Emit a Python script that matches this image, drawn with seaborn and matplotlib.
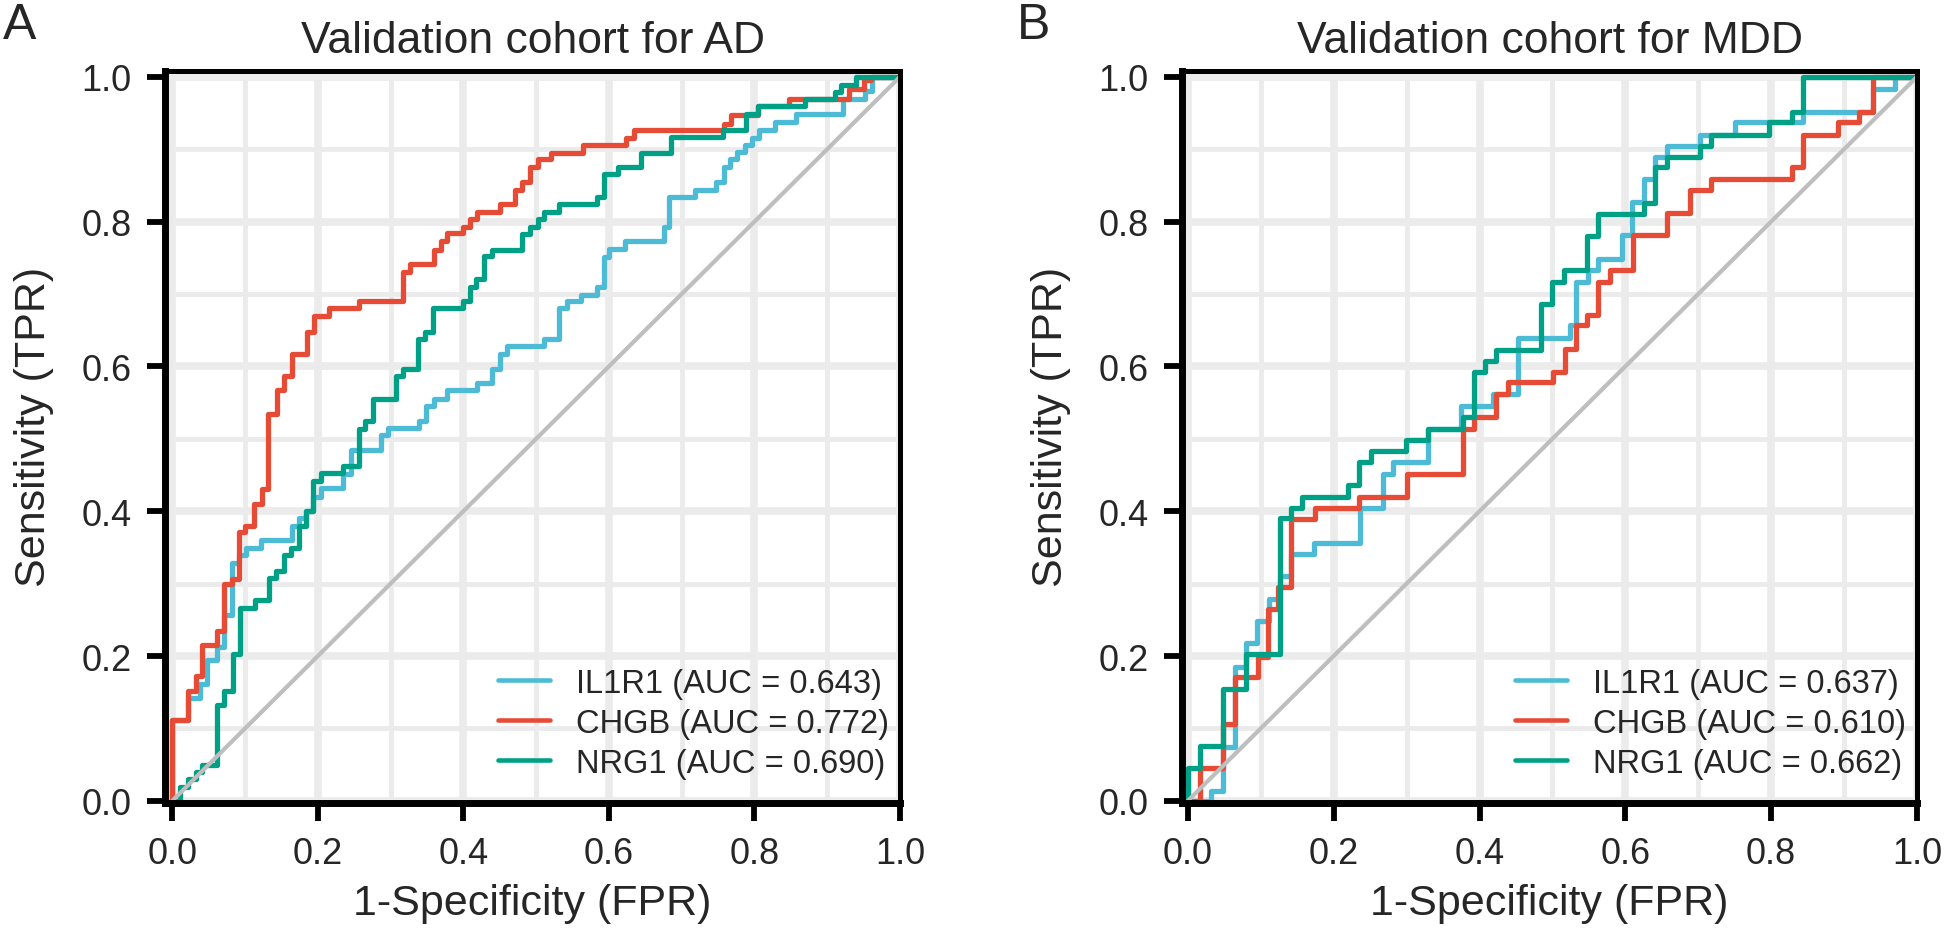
import matplotlib
matplotlib.use("Agg")
import matplotlib.pyplot as plt
import seaborn as sns
import pandas as pd

# ---------------- data (jump points of step ROC curves, steps-post) ----------------
ad_il1r1_fpr = [0, 0, 0.022, 0.038, 0.048, 0.061, 0.071, 0.082, 0.091, 0.101, 0.122, 0.165, 0.174, 0.184,
                0.194, 0.204, 0.235, 0.245, 0.287, 0.297, 0.339, 0.349, 0.359, 0.378, 0.419, 0.440, 0.450,
                0.460, 0.511, 0.532, 0.542, 0.562, 0.583, 0.593, 0.600, 0.622, 0.676, 0.683, 0.718, 0.747,
                0.758, 0.766, 0.776, 0.787, 0.796, 0.806, 0.828, 0.857, 0.921, 0.952, 0.962, 1.0]
ad_il1r1_tpr = [0, 0.111, 0.142, 0.162, 0.195, 0.212, 0.256, 0.329, 0.339, 0.349, 0.360, 0.380, 0.390, 0.400,
                0.420, 0.432, 0.452, 0.484, 0.505, 0.515, 0.525, 0.545, 0.555, 0.567, 0.577, 0.597, 0.617,
                0.628, 0.638, 0.680, 0.690, 0.699, 0.709, 0.751, 0.762, 0.773, 0.792, 0.834, 0.844, 0.855,
                0.875, 0.886, 0.896, 0.906, 0.916, 0.927, 0.938, 0.949, 0.969, 0.980, 1.0, 1.0]

ad_chgb_fpr = [0, 0, 0.022, 0.032, 0.041, 0.061, 0.071, 0.082, 0.091, 0.100, 0.112, 0.123, 0.132, 0.144,
               0.153, 0.165, 0.185, 0.195, 0.215, 0.256, 0.317, 0.326, 0.359, 0.369, 0.378, 0.400, 0.409,
               0.419, 0.450, 0.471, 0.481, 0.492, 0.502, 0.521, 0.564, 0.624, 0.634, 0.758, 0.768, 0.805,
               0.848, 0.930, 0.950, 0.960, 1.0]
ad_chgb_tpr = [0, 0.111, 0.152, 0.173, 0.215, 0.235, 0.300, 0.307, 0.371, 0.380, 0.410, 0.430, 0.534, 0.567,
               0.587, 0.617, 0.648, 0.669, 0.680, 0.690, 0.730, 0.741, 0.761, 0.773, 0.784, 0.793, 0.803,
               0.813, 0.824, 0.844, 0.855, 0.875, 0.886, 0.895, 0.906, 0.916, 0.927, 0.935, 0.947, 0.960,
               0.969, 0.983, 0.996, 1.0, 1.0]

ad_nrg1_fpr = [0, 0.011, 0.021, 0.032, 0.041, 0.061, 0.071, 0.083, 0.093, 0.113, 0.133, 0.143, 0.153, 0.163,
               0.174, 0.184, 0.194, 0.204, 0.235, 0.256, 0.265, 0.276, 0.307, 0.317, 0.337, 0.347, 0.358,
               0.399, 0.409, 0.418, 0.429, 0.440, 0.481, 0.492, 0.502, 0.511, 0.532, 0.584, 0.593, 0.613,
               0.644, 0.685, 0.757, 0.788, 0.805, 0.869, 0.910, 0.919, 0.940, 1.0]
ad_nrg1_tpr = [0, 0.019, 0.030, 0.040, 0.050, 0.133, 0.152, 0.203, 0.267, 0.277, 0.308, 0.318, 0.339, 0.349,
               0.380, 0.400, 0.442, 0.453, 0.463, 0.514, 0.524, 0.555, 0.587, 0.597, 0.638, 0.648, 0.680,
               0.690, 0.709, 0.721, 0.752, 0.761, 0.783, 0.792, 0.803, 0.813, 0.824, 0.834, 0.866, 0.875,
               0.895, 0.917, 0.927, 0.949, 0.960, 0.970, 0.979, 0.989, 1.0, 1.0]

mdd_il1r1_fpr = [0, 0.032, 0.048, 0.064, 0.080, 0.095, 0.111, 0.126, 0.141, 0.173, 0.236, 0.267, 0.282, 0.330,
                 0.375, 0.419, 0.453, 0.524, 0.532, 0.549, 0.563, 0.595, 0.609, 0.625, 0.641, 0.657, 0.702,
                 0.750, 0.844, 0.939, 0.970, 1.0]
mdd_il1r1_tpr = [0, 0.014, 0.074, 0.185, 0.218, 0.249, 0.279, 0.311, 0.341, 0.356, 0.404, 0.452, 0.468, 0.514,
                 0.545, 0.562, 0.639, 0.657, 0.717, 0.733, 0.749, 0.781, 0.827, 0.859, 0.889, 0.905, 0.920,
                 0.938, 0.952, 0.983, 1.0, 1.0]

mdd_chgb_fpr = [0, 0.017, 0.048, 0.064, 0.096, 0.110, 0.124, 0.142, 0.174, 0.235, 0.300, 0.377, 0.392, 0.422,
                0.439, 0.501, 0.517, 0.532, 0.548, 0.563, 0.579, 0.610, 0.657, 0.688, 0.718, 0.829, 0.844,
                0.891, 0.921, 0.939, 1.0]
mdd_chgb_tpr = [0, 0.045, 0.106, 0.171, 0.198, 0.265, 0.295, 0.389, 0.405, 0.419, 0.452, 0.514, 0.530, 0.562,
                0.578, 0.592, 0.624, 0.657, 0.671, 0.717, 0.733, 0.781, 0.812, 0.843, 0.859, 0.875, 0.920,
                0.938, 0.952, 1.0, 1.0]

mdd_nrg1_fpr = [0, 0, 0.017, 0.048, 0.080, 0.127, 0.141, 0.157, 0.220, 0.235, 0.251, 0.299, 0.330, 0.377,
                0.392, 0.407, 0.422, 0.485, 0.500, 0.516, 0.547, 0.563, 0.626, 0.641, 0.657, 0.702, 0.718,
                0.797, 0.829, 0.844, 1.0]
mdd_nrg1_tpr = [0, 0.045, 0.076, 0.155, 0.203, 0.390, 0.405, 0.419, 0.436, 0.468, 0.483, 0.499, 0.514, 0.530,
                0.592, 0.607, 0.622, 0.686, 0.717, 0.733, 0.780, 0.811, 0.826, 0.875, 0.889, 0.905, 0.920,
                0.938, 0.952, 1.0, 1.0]

genes = ["IL1R1", "CHGB", "NRG1"]
ad_auc = ["0.643", "0.772", "0.690"]
mdd_auc = ["0.637", "0.610", "0.662"]
colors = ["#4DBBD5", "#E64B35", "#00A087"]
titles = ["Validation cohort for AD", "Validation cohort for MDD"]
panel_letters = ["A", "B"]
ticks = [0.0, 0.2, 0.4, 0.6, 0.8, 1.0]
minor_ticks = [0.1, 0.3, 0.5, 0.7, 0.9]
diag = [0.0, 1.0]

panels = [
    (ad_auc, [(ad_il1r1_fpr, ad_il1r1_tpr), (ad_chgb_fpr, ad_chgb_tpr), (ad_nrg1_fpr, ad_nrg1_tpr)]),
    (mdd_auc, [(mdd_il1r1_fpr, mdd_il1r1_tpr), (mdd_chgb_fpr, mdd_chgb_tpr), (mdd_nrg1_fpr, mdd_nrg1_tpr)]),
]

# ---------------- style ----------------
sns.set_style("white")
plt.rcParams["font.family"] = ["Liberation Sans", "DejaVu Sans"]

fig = plt.figure(figsize=(19.44, 9.37), dpi=100)
ax_lefts = [165 / 1944, 1182 / 1944]
xlims = [(-0.01, 1.0), (-0.008, 1.0)]

for i, (aucs, curves) in enumerate(panels):
    ax = fig.add_axes([ax_lefts[i], 133 / 937, 735 / 1944, 732 / 937])
    labels = [f"{g} (AUC = {a})" for g, a in zip(genes, aucs)]
    frames = []
    for lab, (fx, ty) in zip(labels, curves):
        frames.append(pd.DataFrame({"fpr": fx, "tpr": ty, "label": lab}))
    df = pd.concat(frames, ignore_index=True)
    pal = dict(zip(labels, colors))
    sns.lineplot(data=df, x="fpr", y="tpr", hue="label", hue_order=labels, palette=pal,
                 estimator=None, sort=False, drawstyle="steps-post", linewidth=3.8,
                 ax=ax, zorder=3)
    sns.lineplot(x=diag, y=diag, color="#BEBEBE", linewidth=3.0, ax=ax, zorder=4, legend=False)

    ax.set_xlim(*xlims[i])
    ax.set_ylim(-0.003, 1.008)
    ax.set_xticks(ticks)
    ax.set_yticks(ticks)
    ax.set_xticks(minor_ticks, minor=True)
    ax.set_yticks(minor_ticks, minor=True)
    ax.set_xticklabels([f"{t:.1f}" for t in ticks])
    ax.set_yticklabels([f"{t:.1f}" for t in ticks])
    ax.grid(which="major", color="#EBEBEB", linewidth=5.5)
    ax.grid(which="minor", color="#EBEBEB", linewidth=3.5)
    ax.set_axisbelow(True)
    ax.tick_params(which="major", direction="out", length=13, width=4.2, color="black",
                   labelsize=26, pad=11, left=True, bottom=True)
    ax.tick_params(which="minor", length=0)
    for s in ["left", "bottom"]:
        ax.spines[s].set_linewidth(5)
    for s in ["top", "right"]:
        ax.spines[s].set_linewidth(3.6)
    for s in ax.spines.values():
        s.set_color("black")
        s.set_zorder(6)

    ax.set_title(titles[i], fontsize=32, pad=14)
    ax.set_xlabel("1-Specificity (FPR)", fontsize=31, va="center")
    ax.xaxis.set_label_coords(0.5, -0.137)
    ax.set_ylabel("Sensitivity (TPR)", fontsize=31, va="center")
    ax.yaxis.set_label_coords(-0.178, 0.515)

    leg = ax.legend(loc="lower right", bbox_to_anchor=(0.985, 0.033), frameon=False,
                    fontsize=23.5, handlelength=1.6, handletextpad=0.8, labelspacing=0.28,
                    borderpad=0, borderaxespad=0)
    for ln in leg.get_lines():
        ln.set_linewidth(3.3)

fig.text(3 / 1944, 1 - 3 / 937, panel_letters[0], fontsize=36, ha="left", va="top")
fig.text(1017 / 1944, 1 - 3 / 937, panel_letters[1], fontsize=36, ha="left", va="top")

fig.savefig("out.png", dpi=100)
